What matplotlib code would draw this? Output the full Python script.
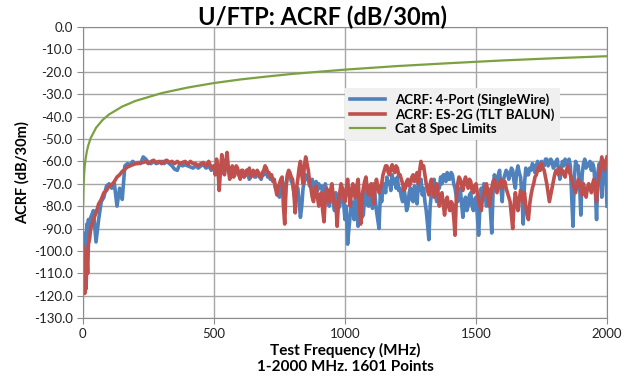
import matplotlib
matplotlib.use("Agg")
import matplotlib.pyplot as plt
from matplotlib.ticker import FuncFormatter

plt.rcParams['font.family'] = ['Lato', 'DejaVu Sans']

# frequency grid (MHz)
freq = [1, 3, 5, 7, 9, 12, 15, 18, 21, 25] + list(range(30, 500, 10)) + list(range(500, 2001, 5))

# ACRF: 4-Port (SingleWire)
blue = [-100, -112, -97, -108, -92, -99, -88, -95, -86, -90,
        -85, -82, -96, -86, -78, -76, -71, -70, -72, -70,
        -80, -72, -77, -62, -61, -61.5, -60, -61, -60.5, -61,
        -58, -59, -60.5, -61, -60, -61, -60.5, -60, -61, -60,
        -61, -62, -63.5, -64, -61, -62, -61.5, -62, -62.5, -63,
        -62, -63, -62, -61.5, -63, -62, -64,
        # 500 MHz onwards, 5 MHz steps
        -62, -64, -65, -63, -62, -66, -60, -63, -65, -62, -61, -64, -66, -64, -63, -66, -65, -63, -64, -66,
        -67, -65, -65, -67, -66, -64, -66, -68, -67, -65, -66, -67, -67, -65, -66, -67, -68, -66, -66, -64,
        -65, -67, -66, -68, -67, -68, -69, -72, -73, -75, -76, -71, -68, -74, -80, -70, -67, -65, -66, -69,
        -70, -74, -78, -73, -72, -78, -85, -80, -72, -69, -66, -68, -68, -71, -70, -68, -72, -70, -69, -73,
        -70, -72, -71, -74, -75, -70, -74, -79, -80, -75, -72, -78, -82, -74, -76, -81, -80, -72, -74, -79,
        -86, -80, -97, -90, -84, -78, -80, -86, -74, -82, -89, -76, -78, -85, -84, -76, -72, -79, -80, -73,
        -76, -81, -70, -76, -82, -86, -90, -74, -78, -72, -70, -74, -67, -70, -69, -73, -66, -70, -68, -72,
        -67, -73, -72, -76, -78, -72, -76, -82, -80, -74, -72, -77, -78, -71, -74, -79, -70, -73, -68, -75,
        -72, -78, -82, -88, -95, -80, -74, -70, -68, -75, -78, -72, -72, -67, -70, -66, -66, -69, -65, -68,
        -68, -65, -66, -70, -72, -76, -78, -73, -72, -79, -85, -78, -76, -82, -80, -75, -74, -80, -82, -77,
        -76, -84, -93, -80, -72, -76, -70, -75, -80, -72, -74, -82, -92, -74, -66, -69, -70, -66, -64, -72,
        -78, -68, -66, -64, -65, -68, -66, -63, -64, -69, -72, -65, -62, -65, -67, -75, -88, -70, -63, -66,
        -66, -63, -64, -61, -62, -65, -62, -60, -61, -63, -60, -62, -62, -59, -59, -62, -61, -59, -60, -63,
        -62, -60, -59, -64, -68, -63, -60, -62, -59, -61, -61, -59, -62, -75, -89, -68, -60, -62, -62, -70,
        -84, -66, -61, -59, -63, -61, -62, -60, -64, -61, -63, -72, -86, -65, -61, -64, -76, -63, -60, -66,
        -80]

# ACRF: ES-2G (TLT BALUN)
red = [-98, -118, -104, -119, -100, -117, -102, -110, -97, -95,
       -90, -86, -83, -79, -77, -74, -73, -71, -70.5, -69,
       -67, -66, -64.5, -63.5, -62.5, -62, -61.5, -61, -61, -60.5,
       -60.5, -60, -61, -60, -59.5, -60.5, -60, -61, -60, -59.5,
       -60.5, -60, -61, -60, -61, -60.5, -60, -61.5, -60, -61,
       -61, -62, -61, -60.5, -62, -60, -63,
       # 500 MHz onwards, 5 MHz steps
       -62, -66, -59, -63, -73, -64, -57, -62, -66, -60, -56, -63, -68, -65, -62, -67, -66, -62, -63, -66,
       -68, -64, -64, -67, -66, -64, -65, -63, -67, -65, -64, -66, -66, -64, -65, -67, -67, -65, -64, -62,
       -63, -65, -65, -67, -66, -69, -68, -72, -75, -71, -70, -68, -67, -80, -88, -72, -66, -64, -65, -67,
       -68, -74, -83, -72, -68, -63, -60, -66, -70, -62, -58, -61, -64, -69, -72, -76, -78, -73, -71, -76,
       -80, -75, -74, -82, -87, -76, -72, -76, -78, -73, -70, -75, -80, -78, -89, -79, -74, -70, -72, -76,
       -78, -72, -68, -74, -80, -73, -70, -75, -76, -71, -68, -78, -88, -76, -72, -69, -67, -72, -75, -71,
       -70, -76, -79, -72, -68, -71, -74, -72, -70, -66, -64, -62, -62, -65, -66, -63, -61.5, -64, -65, -62,
       -63, -66, -66, -68, -70, -73, -72, -69, -68, -71, -70, -67, -66, -69, -67, -65, -70, -64, -60, -63,
       -62, -66, -70, -73, -75, -70, -68, -72, -76, -73, -70, -74, -80, -76, -74, -79, -84, -78, -76, -80,
       -82, -78, -79, -85, -93, -76, -70, -67, -68, -71, -73, -69, -67, -70, -72, -68, -69, -73, -74, -71,
       -70, -74, -78, -80, -82, -76, -75, -71, -70, -74, -80, -76, -72, -69, -68, -71, -74, -72, -70, -68,
       -72, -70, -69, -72, -74, -76, -78, -84, -90, -80, -74, -78, -82, -77, -73, -76, -78, -74, -80, -84,
       -86, -79, -75, -72, -70, -67, -66, -64, -62, -64, -61, -63, -64, -67, -70, -74, -78, -75, -72, -69,
       -66, -64, -64, -66, -63, -65, -64, -66, -67, -64, -62, -64, -66, -68, -70, -72, -74, -71, -68, -70,
       -72, -75, -70, -73, -76, -72, -70, -72, -74, -70, -68, -73, -78, -70, -66, -62, -58, -61, -64, -60,
       -58]

# Cat 8 Spec Limits
cat8_freq = [1, 2, 3, 5, 7, 10, 15, 20, 30, 50, 75, 100, 150, 200, 300,
             400, 500, 600, 700, 800, 1000, 1200, 1400, 1600, 1800, 2000]
cat8 = [-79, -73, -69.5, -65, -62, -59, -55.5, -53, -49.5, -45, -41.5, -39,
        -35.5, -33, -29.5, -27, -25, -23.4, -22.1, -20.9, -19, -17.4, -16.1,
        -14.9, -13.9, -13]

assert len(freq) == len(blue) == len(red), (len(freq), len(blue), len(red))

fig = plt.figure(figsize=(6.33, 3.82), dpi=100)
ax = fig.add_axes([0.131, 0.1675, 0.828, 0.7615])

ax.plot(freq, blue, color='#4F81BD', lw=2.6, label='ACRF: 4-Port (SingleWire)')
ax.plot(freq, red, color='#C0504D', lw=2.6, label='ACRF: ES-2G (TLT BALUN)')
ax.plot(cat8_freq, cat8, color='#7DA043', lw=1.6, label='Cat 8 Spec Limits')

ax.set_xlim(0, 2000)
ax.set_ylim(-130, 0)
ax.set_xticks([0, 500, 1000, 1500, 2000])
ax.set_yticks(range(-130, 1, 10))
ax.yaxis.set_major_formatter(FuncFormatter(lambda v, p: f"{v:.1f}"))
ax.tick_params(labelsize=9.5, labelcolor='#222222', length=4, color='#8c8c8c')
ax.grid(True, color='#a6a6a6', lw=1)
for s in ax.spines.values():
    s.set_color('#8c8c8c')

ax.set_ylabel('ACRF (dB/30m)', fontsize=10.5, fontweight='bold', labelpad=3)
ax.set_xlabel('Test Frequency (MHz)\n1-2000 MHz. 1601 Points', fontsize=11,
              fontweight='bold', labelpad=2, linespacing=1.15)
fig.text(0.51, 0.955, 'U/FTP: ACRF (dB/30m)', ha='center', va='center',
         fontsize=17, fontweight='bold')

leg = ax.legend(loc='upper left', bbox_to_anchor=(0.5, 0.79),
                prop={'weight': 'bold', 'size': 9.5}, frameon=True,
                fancybox=False, borderaxespad=0, handlelength=2.6,
                labelspacing=0.15, borderpad=0.4)
leg.get_frame().set_facecolor('#f0f0f0')
leg.get_frame().set_edgecolor('none')
leg.get_frame().set_alpha(1)

fig.savefig('out.png', dpi=100)
